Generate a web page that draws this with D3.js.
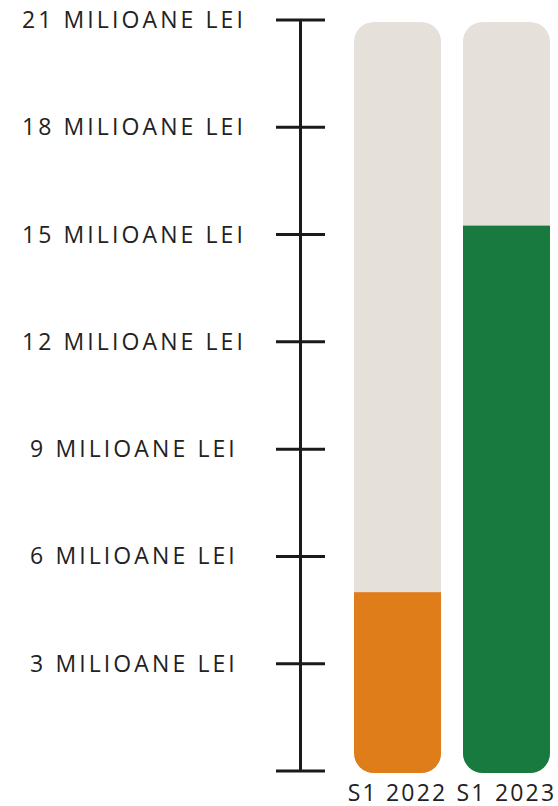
<!DOCTYPE html>
<html>
<head>
<meta charset="utf-8">
<script src="https://cdn.jsdelivr.net/npm/d3@7.9.0/dist/d3.min.js"></script>
<style>
  body { margin: 0; background: #fff; }
  svg text { font-family: "Open Sans", Lato, sans-serif; fill: #222; }
</style>
</head>
<body>
<svg width="558" height="806"></svg>
<script>
const categories = ['S1 2022', 'S1 2023'];
const values = [5.0, 15.25];
const colorsList = ['#E07D1B', '#187A3E'];
const maxValue = 21;
const tickValues = [0, 3, 6, 9, 12, 15, 18, 21];
const tickLabel = (d) => `${d} MILIOANE LEI`;

const svg = d3.select('svg');

let y = d3.scaleLinear().domain([0, maxValue]).range([771, 20]);
let x = d3.scaleBand().domain(categories).range([354, 550]).paddingInner(0.2);

// axis line + ticks
svg.append('line')
  .attr('x1', 300.5).attr('x2', 300.5)
  .attr('y1', y(maxValue)).attr('y2', y(0))
  .attr('stroke', '#1a1a1a').attr('stroke-width', 3);

let ticks = svg.selectAll('.tick').data(tickValues).enter().append('g')
  .attr('transform', d => `translate(0,${y(d)})`);
ticks.append('line')
  .attr('x1', 276).attr('x2', 325)
  .attr('stroke', '#1a1a1a').attr('stroke-width', 3);
ticks.filter(d => d > 0).append('text')
  .attr('x', 134).attr('y', 8)
  .attr('text-anchor', 'middle')
  .attr('font-size', 23)
  .attr('letter-spacing', 3.1)
  .text(tickLabel);

// rounded clip for each bar
const r = 20;
let defs = svg.append('defs');
categories.forEach((c, i) => {
  defs.append('clipPath').attr('id', 'clip' + i)
    .append('rect')
    .attr('x', x(c)).attr('y', y(maxValue) + 2)
    .attr('width', x.bandwidth()).attr('height', y(0) - y(maxValue))
    .attr('rx', r).attr('ry', r);
});

let bars = svg.selectAll('.bar').data(categories).enter().append('g')
  .attr('clip-path', (d, i) => `url(#clip${i})`);
bars.append('rect')
  .attr('x', d => x(d)).attr('y', y(maxValue) + 2)
  .attr('width', x.bandwidth()).attr('height', y(0) - y(maxValue))
  .attr('fill', '#E5E0DA');
bars.append('rect')
  .attr('x', d => x(d)).attr('y', (d, i) => y(values[i]))
  .attr('width', x.bandwidth()).attr('height', (d, i) => y(0) + 2 - y(values[i]))
  .attr('fill', (d, i) => colorsList[i]);

svg.selectAll('.cat').data(categories).enter().append('text')
  .attr('x', d => x(d) + x.bandwidth() / 2)
  .attr('y', 801)
  .attr('text-anchor', 'middle')
  .attr('font-size', 23)
  .attr('letter-spacing', 2.2)
  .text(d => d);
</script>
</body>
</html>
